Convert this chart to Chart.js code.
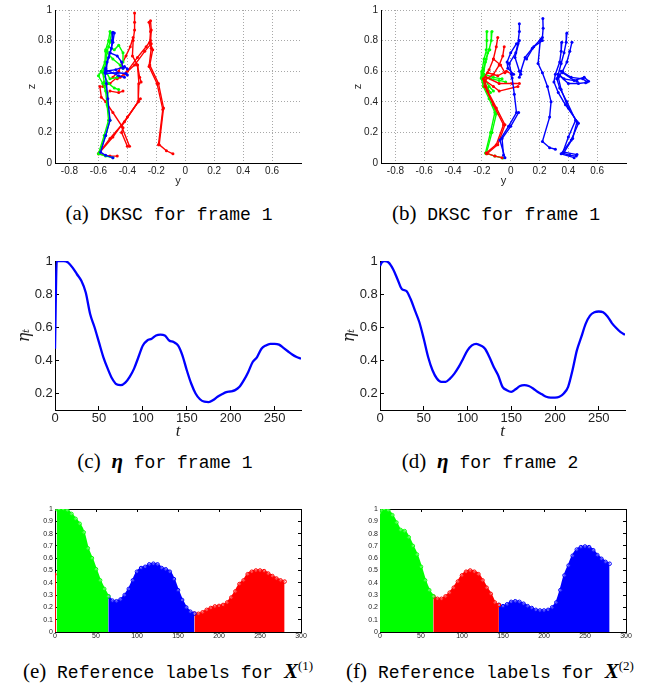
<!DOCTYPE html>
<html>
<head>
<meta charset="utf-8">
<script src="https://cdn.jsdelivr.net/npm/chart.js@4.4.1/dist/chart.umd.min.js"></script>
<style>
body { margin: 0; background: #fff; width: 652px; height: 687px; position: relative; overflow: hidden; }
canvas { position: absolute; }
.cap { position: absolute; white-space: nowrap; transform: translateX(-50%); line-height: 24px;
       font: 18px "Liberation Mono", "DejaVu Sans Mono", monospace; color: #000; }
.cap .s { font-family: "Liberation Serif", "DejaVu Serif", serif; font-size: 21px; }
.cap .m { font-family: "Liberation Serif", "DejaVu Serif", serif; font-size: 21px; font-weight: bold; font-style: italic; }
.cap sup { font-size: 13px; }
</style>
</head>
<body>
<canvas id="pa" width="326" height="190" style="left:0;top:0"></canvas>
<canvas id="pb" width="326" height="190" style="left:326px;top:0"></canvas>
<canvas id="pc" width="326" height="205" style="left:0;top:240px"></canvas>
<canvas id="pd" width="326" height="205" style="left:326px;top:240px"></canvas>
<canvas id="pe" width="326" height="160" style="left:0;top:490px"></canvas>
<canvas id="pf" width="326" height="160" style="left:326px;top:490px"></canvas>

<div class="cap" style="left:169px;top:201px"><span class="s">(a)</span> DKSC for frame 1</div>
<div class="cap" style="left:496px;top:201px"><span class="s">(b)</span> DKSC for frame 1</div>
<div class="cap" style="left:165px;top:449px"><span class="s">(c)</span> <span class="m">η</span> for frame 1</div>
<div class="cap" style="left:490px;top:449px"><span class="s">(d)</span> <span class="m">η</span> for frame 2</div>
<div class="cap" style="left:168px;top:658px"><span class="s">(e)</span> Reference labels for <span class="m">X</span><span class="s"><sup>(1)</sup></span></div>
<div class="cap" style="left:490px;top:658px"><span class="s">(f)</span> Reference labels for <span class="m">X</span><span class="s"><sup>(2)</sup></span></div>

<script>
// tick labels
const skelYTicks = [-0.8, -0.6, -0.4, -0.2, 0, 0.2, 0.4, 0.6];
const skelZTicks = [0, 0.2, 0.4, 0.6, 0.8, 1];
const etaTTicks = [0, 50, 100, 150, 200, 250];
const etaTicks = [0.2, 0.4, 0.6, 0.8, 1];
const labTTicks = [0, 50, 100, 150, 200, 250, 300];
const labYTicks = [0, 0.1, 0.2, 0.3, 0.4, 0.5, 0.6, 0.7, 0.8, 0.9, 1];

// time axis and eta curves
const T = [0, 2, 5, 10, 15, 20, 25, 30, 35, 40, 45, 50, 55, 60, 65, 70, 75, 80, 85, 90, 95, 100,
  105, 110, 115, 120, 125, 130, 135, 140, 145, 150, 155, 160, 165, 170, 175, 180, 185, 190, 195, 200,
  205, 210, 215, 220, 225, 230, 235, 240, 245, 250, 255, 260, 265, 270, 275, 280];
const eta1 = [0.47, 1.0, 1.0, 1.0, 0.99, 0.96, 0.92, 0.88, 0.81, 0.68, 0.60, 0.51, 0.42, 0.35, 0.29, 0.255,
  0.25, 0.265, 0.30, 0.35, 0.42, 0.49, 0.52, 0.53, 0.55, 0.555, 0.55, 0.52, 0.51, 0.49, 0.43, 0.34,
  0.26, 0.20, 0.165, 0.15, 0.148, 0.16, 0.18, 0.195, 0.208, 0.212, 0.22, 0.24, 0.28, 0.33, 0.39, 0.42,
  0.47, 0.49, 0.50, 0.50, 0.495, 0.475, 0.455, 0.435, 0.42, 0.41];
const eta2 = [0.97, 0.99, 1.0, 0.99, 0.95, 0.89, 0.83, 0.82, 0.77, 0.70, 0.63, 0.53, 0.42, 0.34, 0.29, 0.27,
  0.27, 0.29, 0.32, 0.36, 0.41, 0.46, 0.49, 0.50, 0.49, 0.47, 0.42, 0.36, 0.31, 0.24, 0.22, 0.21,
  0.225, 0.245, 0.25, 0.245, 0.23, 0.21, 0.195, 0.18, 0.175, 0.175, 0.18, 0.20, 0.24, 0.34, 0.46, 0.54,
  0.62, 0.67, 0.69, 0.695, 0.69, 0.665, 0.625, 0.595, 0.57, 0.555];

// reference label segments: [colour, first t, last t]
const segE = [['#ff0000', 0, 0], ['#00ff00', 2, 65], ['#0000ff', 65, 170], ['#ff0000', 170, 280]];
const segF = [['#00ff00', 0, 65], ['#ff0000', 65, 145], ['#0000ff', 145, 280]];

// skeleton chains, points are [y, z]
const blueA = [
  [[-0.50,0.855],[-0.505,0.80],[-0.51,0.75],[-0.53,0.69],[-0.55,0.62],[-0.555,0.59],[-0.545,0.52],[-0.535,0.42],[-0.52,0.28],[-0.55,0.18],[-0.585,0.07],[-0.55,0.05],[-0.50,0.035]],
  [[-0.49,0.85],[-0.50,0.79],[-0.52,0.72],[-0.54,0.66],[-0.545,0.60]],
  [[-0.55,0.60],[-0.48,0.61],[-0.42,0.63],[-0.40,0.615]],
  [[-0.55,0.585],[-0.47,0.59],[-0.41,0.585],[-0.40,0.575]],
  [[-0.55,0.61],[-0.46,0.57],[-0.42,0.56]],
  [[-0.52,0.72],[-0.47,0.70],[-0.44,0.66],[-0.43,0.62]]
];
const greenA = [
  [[-0.52,0.86],[-0.53,0.80],[-0.55,0.74],[-0.555,0.66],[-0.58,0.60],[-0.60,0.57],[-0.57,0.52],[-0.55,0.47],[-0.54,0.38],[-0.53,0.28],[-0.56,0.18],[-0.60,0.06],[-0.55,0.045],[-0.50,0.035]],
  [[-0.51,0.85],[-0.52,0.79],[-0.54,0.73],[-0.55,0.65],[-0.57,0.59],[-0.56,0.53],[-0.54,0.46],[-0.535,0.37],[-0.52,0.28],[-0.55,0.18],[-0.595,0.06]],
  [[-0.53,0.76],[-0.49,0.74],[-0.46,0.77],[-0.43,0.72],[-0.43,0.66]],
  [[-0.55,0.73],[-0.50,0.68],[-0.45,0.64],[-0.43,0.62]],
  [[-0.58,0.60],[-0.53,0.52],[-0.49,0.49],[-0.46,0.48]],
  [[-0.56,0.62],[-0.52,0.55],[-0.47,0.56]]
];
const redA = [
  [[-0.24,0.93],[-0.235,0.87],[-0.24,0.78],[-0.225,0.74],[-0.245,0.64],[-0.185,0.52],[-0.15,0.36],[-0.18,0.12],[-0.13,0.08],[-0.085,0.06]],
  [[-0.25,0.92],[-0.24,0.86],[-0.245,0.79],[-0.235,0.75],[-0.25,0.63],[-0.195,0.52],[-0.155,0.35],[-0.185,0.12]],
  [[-0.24,0.80],[-0.27,0.76],[-0.33,0.69],[-0.40,0.60],[-0.45,0.56]],
  [[-0.235,0.78],[-0.28,0.73],[-0.35,0.64],[-0.42,0.58],[-0.47,0.55]],
  [[-0.35,0.98],[-0.35,0.92],[-0.35,0.87],[-0.36,0.80],[-0.365,0.70],[-0.33,0.64],[-0.315,0.56],[-0.305,0.53]],
  [[-0.33,0.64],[-0.32,0.52],[-0.325,0.40],[-0.44,0.24],[-0.385,0.11]],
  [[-0.325,0.40],[-0.42,0.27],[-0.52,0.16],[-0.60,0.06]],
  [[-0.31,0.42],[-0.40,0.30],[-0.50,0.17],[-0.59,0.07]],
  [[-0.36,0.82],[-0.38,0.76],[-0.41,0.70],[-0.46,0.60],[-0.50,0.56]],
  [[-0.59,0.50],[-0.58,0.43],[-0.55,0.40],[-0.50,0.33],[-0.43,0.23],[-0.44,0.20],[-0.40,0.11]],
  [[-0.52,0.47],[-0.46,0.46],[-0.43,0.47]],
  [[-0.60,0.06],[-0.52,0.045],[-0.47,0.045]],
  [[-0.57,0.50],[-0.52,0.52],[-0.47,0.56]]
];
const blueB = [
  [[0.39,0.85],[0.385,0.79],[0.37,0.72],[0.35,0.65],[0.33,0.58],[0.32,0.55],[0.34,0.49],[0.39,0.40],[0.45,0.28],[0.40,0.17],[0.36,0.065],[0.41,0.05],[0.455,0.045]],
  [[0.355,0.79],[0.35,0.73],[0.34,0.66],[0.31,0.58],[0.30,0.53],[0.33,0.46],[0.38,0.38],[0.47,0.26],[0.42,0.15],[0.35,0.06],[0.44,0.035]],
  [[0.425,0.79],[0.41,0.73],[0.39,0.66],[0.36,0.60],[0.33,0.56],[0.35,0.48],[0.40,0.36],[0.46,0.27],[0.43,0.16],[0.37,0.07],[0.46,0.055]],
  [[0.35,0.60],[0.42,0.56],[0.50,0.55],[0.53,0.53]],
  [[0.36,0.59],[0.44,0.54],[0.51,0.56],[0.54,0.535]],
  [[0.34,0.57],[0.40,0.52],[0.47,0.52],[0.52,0.525]],
  [[0.33,0.58],[0.37,0.55],[0.46,0.535]],
  [[0.223,0.945],[0.225,0.88],[0.22,0.82],[0.205,0.80],[0.19,0.65],[0.22,0.59],[0.255,0.50],[0.28,0.40],[0.27,0.30],[0.22,0.14],[0.27,0.10],[0.31,0.09]],
  [[0.21,0.81],[0.15,0.75],[0.10,0.69],[0.07,0.60],[0.06,0.56]],
  [[0.22,0.80],[0.16,0.76],[0.11,0.68]],
  [[0.06,0.91],[0.06,0.86],[0.05,0.78],[0.035,0.72],[-0.01,0.65],[0.005,0.58],[0.01,0.555],[0.025,0.45],[0.04,0.33],[-0.015,0.24],[-0.075,0.15],[-0.04,0.035]],
  [[0.04,0.78],[0.00,0.72],[-0.025,0.66],[-0.02,0.62],[0.02,0.58]],
  [[0.055,0.33],[0.00,0.24],[-0.06,0.16],[-0.05,0.05]],
  [[0.06,0.80],[0.03,0.69],[0.06,0.60],[0.07,0.58]]
];
const redB = [
  [[-0.09,0.82],[-0.10,0.76],[-0.12,0.68],[-0.15,0.61],[-0.19,0.55],[-0.18,0.50],[-0.12,0.38],[-0.05,0.25],[-0.10,0.12],[-0.17,0.065],[-0.11,0.045],[-0.06,0.035]],
  [[-0.045,0.76],[-0.055,0.70],[-0.08,0.64],[-0.12,0.58],[-0.18,0.54],[-0.16,0.47],[-0.10,0.36],[-0.04,0.25],[-0.09,0.12],[-0.165,0.06]],
  [[-0.16,0.59],[-0.09,0.57],[-0.03,0.60],[0.01,0.58]],
  [[-0.17,0.56],[-0.08,0.52],[0.01,0.52],[0.06,0.52]],
  [[-0.18,0.54],[-0.12,0.50],[-0.08,0.47],[0.05,0.50]],
  [[-0.12,0.68],[-0.07,0.64],[-0.04,0.59]]
];
const greenB = [
  [[-0.165,0.86],[-0.165,0.80],[-0.17,0.74],[-0.185,0.68],[-0.20,0.60],[-0.205,0.555],[-0.19,0.50],[-0.15,0.42],[-0.11,0.33],[-0.14,0.20],[-0.175,0.065],[-0.11,0.045],[-0.055,0.033]],
  [[-0.13,0.86],[-0.135,0.80],[-0.15,0.74],[-0.17,0.68],[-0.19,0.61],[-0.20,0.56],[-0.18,0.50],[-0.13,0.40],[-0.10,0.32],[-0.13,0.20],[-0.17,0.06]],
  [[-0.145,0.74],[-0.16,0.72],[-0.175,0.66],[-0.19,0.58]],
  [[-0.20,0.56],[-0.14,0.55],[-0.08,0.54],[-0.035,0.53]],
  [[-0.19,0.57],[-0.15,0.50],[-0.12,0.47]],
  [[-0.20,0.55],[-0.16,0.49],[-0.14,0.46]],
  [[-0.185,0.58],[-0.12,0.56],[-0.06,0.55]]
];

Chart.defaults.font.family = '"Liberation Sans", Arial, sans-serif';
Chart.defaults.color = '#222';
Chart.defaults.animation = false;
Chart.defaults.plugins.legend.display = false;
Chart.defaults.plugins.tooltip.enabled = false;

function fixedSize(size) {
  return function (ax) { if (ax.isHorizontal()) ax.height = size; else ax.width = size; };
}
function useTicks(list) {
  return function (ax) { ax.ticks = list.map(v => ({ value: v })); };
}

function skeletonChart(id, groups, padLeft, padRight) {
  const datasets = [];
  groups.forEach(([color, chains]) => chains.forEach(ch => datasets.push({
    data: ch.map(p => ({ x: p[0], y: p[1] })),
    showLine: true, borderColor: color, backgroundColor: color,
    borderWidth: 1.4, pointRadius: 1.5, pointBorderWidth: 0
  })));
  new Chart(document.getElementById(id), {
    type: 'scatter',
    data: { datasets },
    options: {
      responsive: false,
      layout: { padding: { left: padLeft, right: padRight, top: 10, bottom: 0 } },
      scales: {
        x: {
          min: -0.9, max: 0.8, afterBuildTicks: useTicks(skelYTicks), afterFit: fixedSize(27),
          ticks: { font: { size: 10 }, padding: 2, maxRotation: 0, autoSkip: false, callback: v => String(v) },
          grid: { color: '#a8a8a8', drawTicks: false },
          border: { color: '#000', dash: [1, 2] },
          title: { display: true, text: 'y', font: { size: 11 }, padding: { top: 0, bottom: 2 } }
        },
        y: {
          min: 0, max: 1, afterBuildTicks: useTicks(skelZTicks), afterFit: fixedSize(40),
          ticks: { font: { size: 10 }, padding: 3, autoSkip: false, callback: v => String(v) },
          grid: { color: '#a8a8a8', drawTicks: false },
          border: { color: '#000', dash: [1, 2] },
          title: { display: true, text: 'z', font: { size: 11 }, padding: { top: 10, bottom: 0 } }
        }
      }
    }
  });
}

skeletonChart('pa', [['#0000ff', blueA], ['#00ff00', greenA], ['#ff0000', redA]], 15, 25);
skeletonChart('pb', [['#0000ff', blueB], ['#ff0000', redB], ['#00ff00', greenB]], 15, 26);

function etaChart(id, eta, padLeft, padRight) {
  new Chart(document.getElementById(id), {
    type: 'line',
    data: {
      datasets: [{
        data: T.map((t, i) => ({ x: t, y: eta[i] })),
        borderColor: '#0000ff', borderWidth: 2.3, pointRadius: 0, cubicInterpolationMode: 'monotone'
      }]
    },
    options: {
      responsive: false,
      layout: { padding: { left: padLeft, right: padRight, top: 21, bottom: 0 } },
      scales: {
        x: {
          type: 'linear', min: 0, max: 280, afterBuildTicks: useTicks(etaTTicks), afterFit: fixedSize(35),
          ticks: { font: { size: 13 }, padding: 4.5, maxRotation: 0, autoSkip: false, callback: v => String(v) },
          grid: { drawOnChartArea: false, tickLength: -4, tickColor: '#000' },
          border: { color: '#000' },
          title: { display: true, text: 't', font: { size: 17, style: 'italic', family: '"Liberation Serif", serif' }, padding: { top: 0, bottom: 3 } }
        },
        y: {
          min: 0.1, max: 1, afterBuildTicks: useTicks(etaTicks), afterFit: fixedSize(40),
          ticks: { font: { size: 13 }, padding: 6.3, autoSkip: false, callback: v => String(v) },
          grid: { drawOnChartArea: false, tickLength: -4, tickColor: '#000' },
          border: { color: '#000' },
          title: { display: true, text: 'ηₜ', font: { size: 16, style: 'italic', family: '"DejaVu Serif", serif' }, padding: { top: 0, bottom: 0 } }
        }
      }
    }
  });
}

etaChart('pc', eta1, 15, 25);
etaChart('pd', eta2, 14, 27);

function labelChart(id, eta, segs, padLeft, padRight) {
  const datasets = segs.map(([color, from, to]) => {
    const pts = [];
    T.forEach((t, i) => { if (t >= from && t <= to) pts.push({ x: t, y: eta[i] }); });
    if (pts.length === 1) {
      return { data: [{ x: pts[0].x, y: 0 }, pts[0]], borderColor: color, borderWidth: 2, pointRadius: [0, 1.6],
               pointBackgroundColor: color, pointBorderWidth: 0, fill: false };
    }
    return {
      data: pts, borderColor: color, backgroundColor: color, fill: 'origin', borderWidth: 2,
      pointRadius: 1.8, pointBorderWidth: 1, pointBackgroundColor: 'rgba(255,255,255,0.3)',
      cubicInterpolationMode: 'monotone'
    };
  });
  const tickGrid = { drawOnChartArea: false, tickLength: -3, tickColor: '#000' };
  new Chart(document.getElementById(id), {
    type: 'line',
    data: { datasets },
    options: {
      responsive: false,
      layout: { padding: { left: padLeft, right: padRight, top: 19, bottom: 0 } },
      scales: {
        x: {
          type: 'linear', min: 0, max: 300, afterBuildTicks: useTicks(labTTicks), afterFit: fixedSize(18),
          ticks: { font: { size: 7 }, padding: 2.5, maxRotation: 0, autoSkip: false, callback: v => String(v) },
          grid: tickGrid, border: { color: '#000' }
        },
        x2: {
          type: 'linear', position: 'top', min: 0, max: 300, afterBuildTicks: useTicks(labTTicks), afterFit: fixedSize(0),
          ticks: { display: false }, grid: tickGrid, border: { color: '#000' }
        },
        y: {
          min: 0, max: 1, afterBuildTicks: useTicks(labYTicks), afterFit: fixedSize(40),
          ticks: { font: { size: 7 }, padding: 5, autoSkip: false, callback: v => String(v) },
          grid: tickGrid, border: { color: '#000' }
        },
        y2: {
          position: 'right', min: 0, max: 1, afterBuildTicks: useTicks(labYTicks), afterFit: fixedSize(0),
          ticks: { display: false }, grid: tickGrid, border: { color: '#000' }
        }
      }
    }
  });
}

labelChart('pe', eta1, segE, 15, 25);
labelChart('pf', eta2, segF, 14, 26);
</script>
</body>
</html>
